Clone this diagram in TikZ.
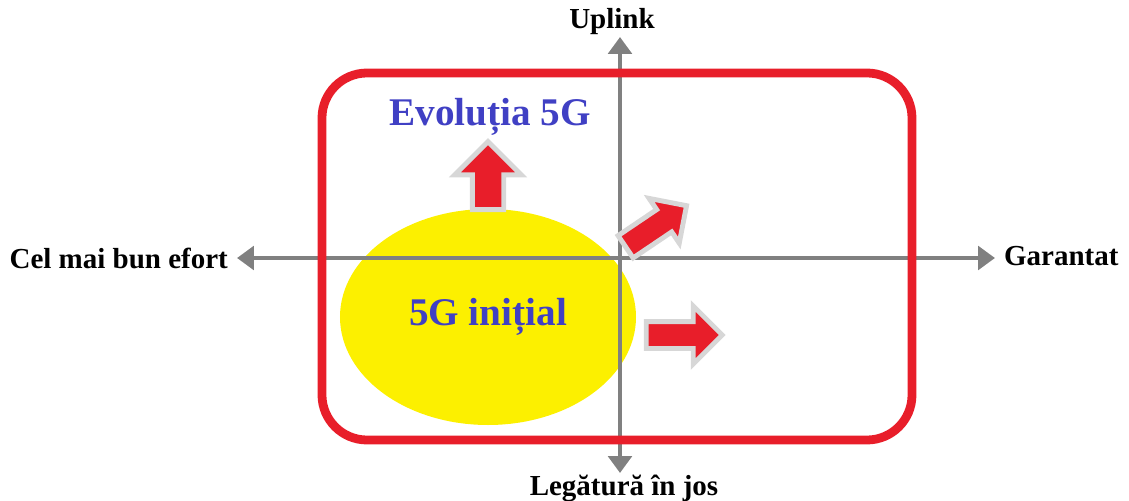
\documentclass[tikz,border=0pt]{standalone}
\usepackage{fontspec}
\setmainfont{Liberation Serif}
\usetikzlibrary{arrows.meta,shapes.geometric,shapes.arrows}

\definecolor{framered}{RGB}{232,30,42}
\definecolor{axisgray}{RGB}{128,128,128}
\definecolor{textblue}{RGB}{64,64,196}
\definecolor{blobyellow}{RGB}{252,240,0}
\definecolor{rimgray}{RGB}{215,215,215}

\tikzset{
    axis/.style={draw=axisgray,line width=2.8pt,{Triangle[length=3.4mm,width=4.7mm]}-{Triangle[length=3.4mm,width=4.7mm]}},
    axislabel/.style={font=\bfseries\fontsize{16.5}{19}\selectfont,inner sep=1pt},
    bigtext/.style={font=\bfseries\fontsize{22.3}{26}\selectfont,text=textblue},
    blockarrow/.style={single arrow,draw=rimgray,line width=2.8pt,fill=framered,inner xsep=0pt}
}

\begin{document}
\begin{tikzpicture}
                \useasboundingbox (-12.4,-4.86) rectangle (10.18,5.16);
                \coordinate (O) at (0,0);
                % yellow area and its label
                \node[ellipse,fill=blobyellow,minimum width=5.92cm,minimum height=4.32cm,bigtext] (init) at (-2.64,-1.18) {5G inițial};
                \node[bigtext] (evo) at (-2.6,2.82) {Evoluția 5G};
                % axis labels
                \node[axislabel,anchor=south] (up) at (-0.16,4.42) {Uplink};
                \node[axislabel,anchor=north] (down) at (0.08,-4.3) {Legătură în jos};
                \node[axislabel,anchor=east,inner xsep=5pt] (best) at (-7.66,0) {Cel mai bun efort};
                \node[axislabel,anchor=west,inner xsep=5pt] (guar) at (7.5,0.03) {Garantat};
                \draw[axis] (O |- down.north) -- (O |- up.south);
                \draw[axis] (best.east |- O) -- (guar.west |- O);
                % frame
                \draw[framered,line width=5pt,rounded corners=0.9cm] (-5.96,-3.64) rectangle (5.84,3.7);
                % growth arrows
                \node[blockarrow,rotate=90,minimum height=1.36cm,inner ysep=0.265cm,single arrow head extend=0.35cm] (grow) at (-2.64,1.49) {};
                \node[blockarrow,rotate=34,minimum height=1.47cm,inner ysep=0.22cm,single arrow head extend=0.27cm] (both) at (0.61,0.56) {};
                \node[blockarrow,minimum height=1.52cm,inner ysep=0.22cm,single arrow head extend=0.31cm] (assure) at (1.15,-1.54) {};
            \end{tikzpicture}
\end{document}
